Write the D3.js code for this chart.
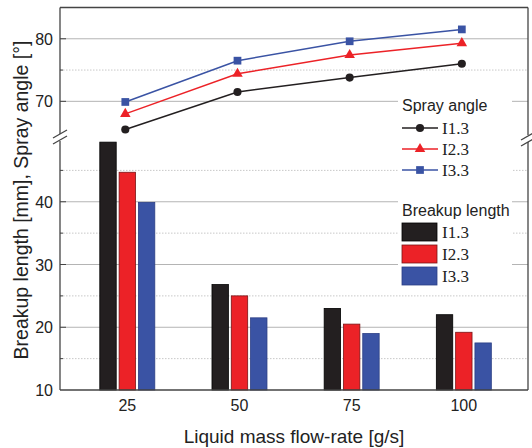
<!DOCTYPE html>
<html>
<head>
<meta charset="utf-8">
<script src="https://cdn.jsdelivr.net/npm/d3@7"></script>
<style>
  body { margin: 0; background: #fff; }
  svg { display: block; font-family: "Liberation Sans", Arial, sans-serif; }
</style>
</head>
<body>
<div id="chart"></div>
<script>
// data
const flowRates = [25, 50, 75, 100];
const series = ["I1.3", "I2.3", "I3.3"];
const breakupI13 = [49.5, 26.8, 23.0, 22.0];
const breakupI23 = [44.7, 25.0, 20.5, 19.2];
const breakupI33 = [39.9, 21.5, 19.0, 17.5];
const sprayI13 = [65.5, 71.5, 73.8, 76.0];
const sprayI23 = [68.0, 74.4, 77.4, 79.3];
const sprayI33 = [69.9, 76.5, 79.6, 81.5];
const lowerTicks = [10, 20, 30, 40];
const upperTicks = [70, 80];

const colors = ["#231f20", "#ec2227", "#3a53a4"];
const strokes = ["#000", "#7a1416", "#2c3f85"];
const symbols = [d3.symbolCircle, d3.symbolTriangle, d3.symbolSquare];
const symbolSizes = [52, 48, 60];

const width = 532, height = 448;
const plotLeft = 60, plotRight = 528, plotTop = 7.5, plotBottom = 390;
const breakY = 138;

const svg = d3.select("#chart").append("svg")
    .attr("width", width)
    .attr("height", height);

// scales
const x = d3.scaleLinear().domain([10, 114.3]).range([plotLeft, plotRight]);
const yLow = d3.scaleLinear().domain([10, 50]).range([plotBottom, 139]);
const yUp = d3.scaleLinear().domain([64.3, 85]).range([137, plotTop]);
const sub = d3.scaleBand().domain(series).range([-27.5, 27.5]).paddingInner(0.15);

// grid lines
const grid = svg.append("g");
function gridLines(scale, vals, dashed) {
    grid.selectAll(null)
        .data(vals)
        .enter().append("line")
        .attr("x1", plotLeft).attr("x2", plotRight)
        .attr("y1", d => scale(d)).attr("y2", d => scale(d))
        .attr("stroke", dashed ? "#c8c8c8" : "#b4b4b4")
        .attr("stroke-width", 1)
        .attr("stroke-dasharray", dashed ? "1.5,1.5" : null);
}
gridLines(yLow, [20, 30, 40], false);
gridLines(yLow, [15, 25, 35, 45], true);
gridLines(yUp, upperTicks, false);
gridLines(yUp, [75], true);

// legend background hides the grid
svg.append("rect")
    .attr("x", 398).attr("y", 93)
    .attr("width", 114).attr("height", 197)
    .attr("fill", "#fff");

// bars
const barData = [breakupI13, breakupI23, breakupI33];
barData.forEach((vals, i) => {
    svg.append("g").selectAll("rect")
        .data(vals)
        .enter().append("rect")
        .attr("x", (d, j) => x(flowRates[j]) + sub(series[i]))
        .attr("width", sub.bandwidth())
        .attr("y", d => yLow(d))
        .attr("height", d => yLow(10) - yLow(d))
        .attr("fill", colors[i])
        .attr("stroke", strokes[i])
        .attr("stroke-width", 0.8);
});

// spray angle lines
const sprayData = [sprayI13, sprayI23, sprayI33];
const line = d3.line()
    .x((d, j) => x(flowRates[j]) - 2)
    .y(d => yUp(d));
sprayData.forEach((vals, i) => {
    svg.append("path")
        .datum(vals)
        .attr("fill", "none")
        .attr("stroke", colors[i])
        .attr("stroke-width", 1.5)
        .attr("d", line);
    svg.append("g").selectAll("path")
        .data(vals)
        .enter().append("path")
        .attr("transform", (d, j) => `translate(${x(flowRates[j]) - 2},${yUp(d)})`)
        .attr("d", d3.symbol().type(symbols[i]).size(symbolSizes[i]))
        .attr("fill", colors[i]);
});

// frame
const frame = svg.append("g").attr("stroke", "#444").attr("stroke-width", 1.3).attr("fill", "none");
frame.append("line").attr("x1", plotLeft).attr("x2", plotRight).attr("y1", plotTop).attr("y2", plotTop);
frame.append("line").attr("x1", plotLeft).attr("x2", plotRight).attr("y1", plotBottom).attr("y2", plotBottom);
frame.append("line").attr("x1", plotLeft).attr("x2", plotLeft).attr("y1", plotTop).attr("y2", breakY - 4);
frame.append("line").attr("x1", plotLeft).attr("x2", plotLeft).attr("y1", breakY + 3).attr("y2", plotBottom);
frame.append("line").attr("x1", plotRight).attr("x2", plotRight).attr("y1", plotTop).attr("y2", breakY - 3);
frame.append("line").attr("x1", plotRight).attr("x2", plotRight).attr("y1", breakY + 4).attr("y2", plotBottom);

// axis break marks
[[plotLeft, breakY - 1], [plotRight, breakY + 1]].forEach(([bx, by]) => {
    [-3, 3].forEach(off => {
        frame.append("line")
            .attr("x1", bx - 7).attr("y1", by + off + 4)
            .attr("x2", bx + 7).attr("y2", by + off - 4);
    });
});

// y ticks
const ticks = svg.append("g").attr("stroke", "#444").attr("stroke-width", 1);
function tickMarks(scale, vals, len) {
    ticks.selectAll(null)
        .data(vals)
        .enter().append("line")
        .attr("x1", plotLeft).attr("x2", plotLeft + len)
        .attr("y1", d => scale(d)).attr("y2", d => scale(d));
}
tickMarks(yLow, [20, 30, 40], 6);
tickMarks(yLow, [15, 25, 35, 45], 3);
tickMarks(yUp, upperTicks, 6);
tickMarks(yUp, [75], 3);

const labels = svg.append("g").attr("font-size", 16).attr("fill", "#222");
labels.selectAll(null)
    .data(lowerTicks)
    .enter().append("text")
    .attr("x", 53).attr("y", d => yLow(d) + 6)
    .attr("text-anchor", "end")
    .text(d => d);
labels.selectAll(null)
    .data(upperTicks)
    .enter().append("text")
    .attr("x", 53).attr("y", d => yUp(d) + 6)
    .attr("text-anchor", "end")
    .text(d => d);
labels.selectAll(null)
    .data(flowRates)
    .enter().append("text")
    .attr("x", d => x(d)).attr("y", 411)
    .attr("text-anchor", "middle")
    .text(d => d);

// axis titles
svg.append("text")
    .attr("x", 294).attr("y", 443)
    .attr("text-anchor", "middle")
    .attr("font-size", 19)
    .attr("fill", "#222")
    .text("Liquid mass flow-rate [g/s]");
svg.append("text")
    .attr("transform", "translate(28,200) rotate(-90)")
    .attr("text-anchor", "middle")
    .attr("font-size", 19.5)
    .attr("fill", "#222")
    .text("Breakup length [mm], Spray angle [°]");

// legends
const legend = svg.append("g").attr("fill", "#222");
legend.append("text").attr("x", 402).attr("y", 111).attr("font-size", 16).text("Spray angle");
const sprayRows = [128, 149, 170];
series.forEach((s, i) => {
    legend.append("line")
        .attr("x1", 402).attr("x2", 438)
        .attr("y1", sprayRows[i]).attr("y2", sprayRows[i])
        .attr("stroke", colors[i]).attr("stroke-width", 1.5);
    legend.append("path")
        .attr("transform", `translate(420,${sprayRows[i]})`)
        .attr("d", d3.symbol().type(symbols[i]).size(symbolSizes[i]))
        .attr("fill", colors[i]);
    legend.append("text")
        .attr("x", 442).attr("y", sprayRows[i] + 6)
        .attr("font-family", "'Liberation Serif', 'Times New Roman', serif")
        .attr("font-size", 17)
        .text(s);
});
legend.append("text").attr("x", 402).attr("y", 216).attr("font-size", 16).text("Breakup length");
const barRows = [223, 245, 267];
series.forEach((s, i) => {
    legend.append("rect")
        .attr("x", 402).attr("y", barRows[i])
        .attr("width", 35).attr("height", 18)
        .attr("fill", colors[i])
        .attr("stroke", strokes[i]).attr("stroke-width", 0.8);
    legend.append("text")
        .attr("x", 442).attr("y", barRows[i] + 15)
        .attr("font-family", "'Liberation Serif', 'Times New Roman', serif")
        .attr("font-size", 17)
        .text(s);
});
</script>
</body>
</html>
